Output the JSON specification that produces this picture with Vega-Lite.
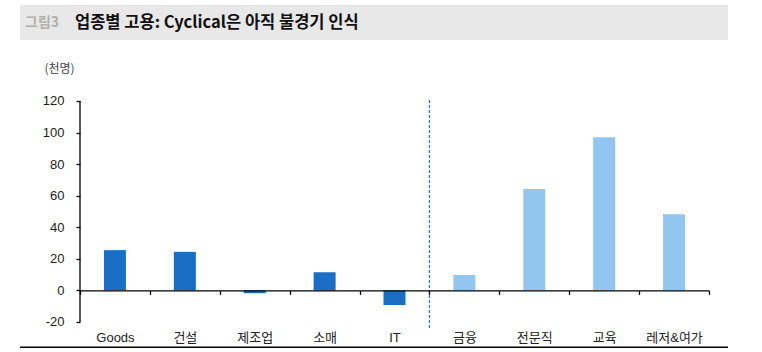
{
  "$schema": "https://vega.github.io/schema/vega-lite/v6.json",
  "width": 708,
  "height": 343,
  "autosize": {"type": "none"},
  "padding": {"left": 20, "top": 5, "right": 34, "bottom": 4},
  "background": "white",
  "config": {"view": {"stroke": null}, "font": "Noto Sans CJK KR"},
  "datasets": {
    "bars": [
      {"c": "Goods", "v": 25.5, "g": "Cyclical"},
      {"c": "건설", "v": 24.4, "g": "Cyclical"},
      {"c": "제조업", "v": -1.8, "g": "Cyclical"},
      {"c": "소매", "v": 11.5, "g": "Cyclical"},
      {"c": "IT", "v": -9.3, "g": "Cyclical"},
      {"c": "금융", "v": 9.8, "g": "Non-cyclical"},
      {"c": "전문직", "v": 64.2, "g": "Non-cyclical"},
      {"c": "교육", "v": 97.0, "g": "Non-cyclical"},
      {"c": "레저&여가", "v": 48.3, "g": "Non-cyclical"}
    ]
  },
  "layer": [
    {
      "data": {"values": [{"c": "Goods"}]},
      "mark": {"type": "rect", "color": "#e8e8e8"},
      "encoding": {
        "y": {"datum": 158.6, "type": "quantitative"},
        "y2": {"datum": 180.8}
      }
    },
    {
      "data": {"name": "bars"},
      "mark": {"type": "bar", "width": {"band": 0.315}},
      "encoding": {
        "x": {
          "field": "c",
          "type": "nominal",
          "scale": {
            "domain": ["Goods", "건설", "제조업", "소매", "IT", "금융", "전문직", "교육", "레저&여가"],
            "range": [60, 689],
            "paddingInner": 0,
            "paddingOuter": 0
          },
          "axis": {
            "title": null,
            "orient": "bottom",
            "offset": -57.6,
            "zindex": 1,
            "domainColor": "#000000",
            "domainWidth": 1.3,
            "tickColor": "#000000",
            "tickWidth": 1.3,
            "tickSize": 4,
            "tickBand": "extent",
            "labelAngle": 0,
            "labelPadding": 37,
            "labelFont": "Liberation Sans, Noto Sans CJK KR",
            "labelFontSize": 13,
            "labelColor": "#222222"
          }
        },
        "y": {
          "field": "v",
          "type": "quantitative",
          "scale": {"domain": [-36.5, 180.8], "nice": false, "zero": false},
          "axis": {
            "values": [-20, 0, 20, 40, 60, 80, 100, 120],
            "labelExpr": "replace(datum.label, '−', '-')",
            "offset": -60,
            "domain": false,
            "grid": false,
            "zindex": 1,
            "tickColor": "#000000",
            "tickWidth": 1.3,
            "tickSize": 4,
            "labelPadding": 12,
            "labelFont": "Liberation Sans, Noto Sans CJK KR",
            "labelFontSize": 13,
            "labelColor": "#222222",
            "title": "(천명)",
            "titleAngle": 0,
            "titleX": -21,
            "titleY": 63,
            "titleAlign": "center",
            "titleBaseline": "middle",
            "titleFont": "Noto Sans CJK KR",
            "titleFontSize": 12,
            "titleFontWeight": "normal",
            "titleColor": "#444444"
          }
        },
        "color": {
          "field": "g",
          "type": "nominal",
          "scale": {"domain": ["Cyclical", "Non-cyclical"], "range": ["#1a6fc5", "#93c5f1"]},
          "legend": null
        }
      }
    },
    {
      "data": {"values": [{"c": "금융"}]},
      "mark": {"type": "rule", "color": "#2a78c4", "strokeWidth": 1.3, "strokeDash": [3, 2]},
      "encoding": {
        "x": {"field": "c", "type": "nominal", "bandPosition": 0},
        "y": {"datum": 120.6, "type": "quantitative"},
        "y2": {"datum": -25.1}
      }
    },
    {
      "data": {"values": [{"c": "Goods"}]},
      "mark": {"type": "rule", "color": "#000000", "strokeWidth": 1.3},
      "encoding": {
        "x": {"field": "c", "type": "nominal", "bandPosition": 0},
        "y": {"datum": -20, "type": "quantitative"},
        "y2": {"datum": 120}
      }
    },
    {
      "data": {"values": [{"c": "Goods"}]},
      "mark": {"type": "rule", "color": "#000000", "strokeWidth": 1.5},
      "encoding": {
        "y": {"datum": -36.0, "type": "quantitative"}
      }
    },
    {
      "data": {"values": [{"c": "Goods", "t": "그림3"}]},
      "mark": {"type": "text", "align": "left", "baseline": "middle", "dx": -55, "font": "Noto Sans CJK KR", "fontSize": 14, "fontWeight": "bold", "color": "#b0b0b0"},
      "encoding": {
        "x": {"field": "c", "type": "nominal", "bandPosition": 0},
        "y": {"datum": 169.7, "type": "quantitative"},
        "text": {"field": "t"}
      }
    },
    {
      "data": {"values": [{"c": "Goods", "t": "업종별 고용: Cyclical은 아직 불경기 인식"}]},
      "mark": {"type": "text", "align": "left", "baseline": "middle", "dx": -5, "font": "Noto Sans CJK KR", "fontSize": 16.5, "fontWeight": "bold", "color": "#111111"},
      "encoding": {
        "x": {"field": "c", "type": "nominal", "bandPosition": 0},
        "y": {"datum": 169.7, "type": "quantitative"},
        "text": {"field": "t"}
      }
    }
  ]
}
